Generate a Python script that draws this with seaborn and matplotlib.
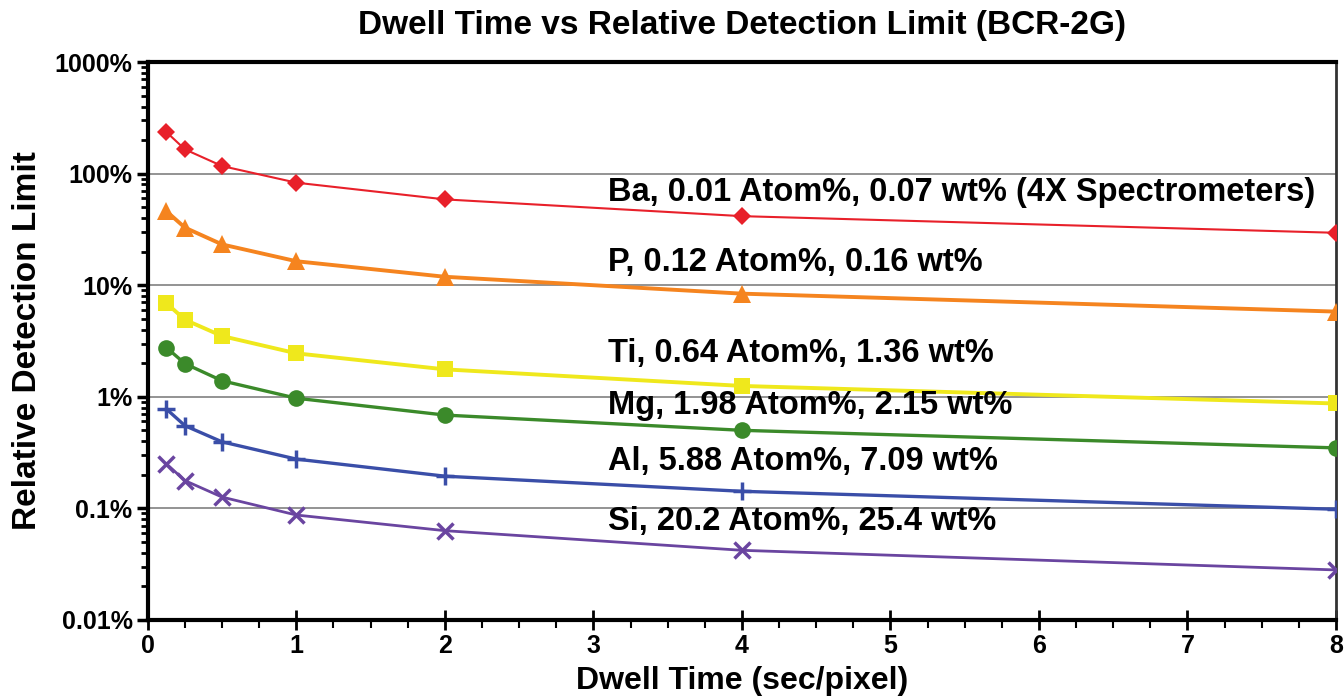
import numpy as np
import pandas as pd
import matplotlib
matplotlib.use("Agg")
import matplotlib.pyplot as plt
import seaborn as sns
from matplotlib.ticker import FixedLocator, FixedFormatter, LogLocator, NullFormatter, MultipleLocator

dwell = [0.125, 0.25, 0.5, 1, 2, 4, 8]
ba = [236, 165, 117, 83, 58.8, 41.6, 29.5]
p = [46, 32.8, 23.2, 16.4, 11.9, 8.4, 5.8]
ti = [6.9, 4.9, 3.5, 2.45, 1.76, 1.25, 0.87]
mg = [2.76, 1.98, 1.39, 0.97, 0.685, 0.50, 0.348]
al = [0.776, 0.55, 0.394, 0.276, 0.194, 0.142, 0.098]
si = [0.25, 0.177, 0.126, 0.087, 0.063, 0.042, 0.028]

labels = ["Ba, 0.01 Atom%, 0.07 wt% (4X Spectrometers)",
          "P, 0.12 Atom%, 0.16 wt%",
          "Ti, 0.64 Atom%, 1.36 wt%",
          "Mg, 1.98 Atom%, 2.15 wt%",
          "Al, 5.88 Atom%, 7.09 wt%",
          "Si, 20.2 Atom%, 25.4 wt%"]
label_y = [67.6, 16.0, 2.42, 0.84, 0.26, 0.076]
label_x = 3.1

ytick_vals = [0.01, 0.1, 1, 10, 100, 1000]
ytick_labels = ["0.01%", "0.1%", "1%", "10%", "100%", "1000%"]

series = [ba, p, ti, mg, al, si]
colors = ["#E8202A", "#F5841F", "#EFE81C", "#3B8A2A", "#3A4EA8", "#6A45A0"]
markers = ["D", "^", "s", "o", "P", "X"]
msizes = [9, 13, 12, 12, 13, 12]
lws = [1.5, 2.8, 2.8, 2.4, 2.4, 2.0]

sns.set_theme(style="white")
plt.rcParams['font.family'] = ['Liberation Sans', 'DejaVu Sans']
plt.rcParams['font.weight'] = 'bold'
plt.rcParams['text.color'] = 'black'
plt.rcParams['axes.labelcolor'] = 'black'
plt.rcParams['xtick.color'] = 'black'
plt.rcParams['ytick.color'] = 'black'

fig = plt.figure(figsize=(13.44, 6.98), dpi=100)
ax = fig.add_axes([0.110, 0.112, 0.884, 0.799])

for vals, c, m, ms, lw in zip(series, colors, markers, msizes, lws):
    df = pd.DataFrame({"x": dwell, "y": vals})
    if m in ("P", "X"):
        mk = "+" if m == "P" else "x"
        sns.lineplot(data=df, x="x", y="y", ax=ax, color=c, lw=lw, marker=mk,
                     markersize=ms, markeredgewidth=2.5, markeredgecolor=c, zorder=3)
    else:
        sns.lineplot(data=df, x="x", y="y", ax=ax, color=c, lw=lw, marker=m,
                     markersize=ms, markeredgewidth=0, markerfacecolor=c, zorder=3)

ax.set_yscale("log")
ax.set_xlim(0, 8)
ax.set_ylim(0.01, 1000)
ax.yaxis.set_major_locator(FixedLocator(ytick_vals))
ax.yaxis.set_major_formatter(FixedFormatter(ytick_labels))
ax.yaxis.set_minor_locator(LogLocator(base=10, subs=np.arange(2, 10)))
ax.yaxis.set_minor_formatter(NullFormatter())
ax.xaxis.set_major_locator(MultipleLocator(1))
ax.xaxis.set_minor_locator(MultipleLocator(0.25))

ax.grid(True, which="major", axis="y", color="#8a8a8a", lw=1.3, zorder=0)
ax.grid(False, axis="x")

for s in ["left", "bottom", "top"]:
    ax.spines[s].set_color("black")
    ax.spines[s].set_linewidth(3)
ax.spines["right"].set_color("#333333")
ax.spines["right"].set_linewidth(2)

ax.tick_params(axis="y", which="major", direction="out", length=8, width=2.5, labelsize=18, pad=3, left=True)
ax.tick_params(axis="y", which="minor", direction="out", length=5, width=2, left=True)
ax.tick_params(axis="x", which="major", direction="inout", length=14, width=2, labelsize=18, pad=3, bottom=True)
ax.tick_params(axis="x", which="minor", direction="out", length=6, width=1.5, bottom=True)
for t in ax.get_xticklabels() + ax.get_yticklabels():
    t.set_fontweight("bold")

for txt, yv in zip(labels, label_y):
    ax.text(label_x, yv, txt, fontsize=23.5, fontweight="bold", va="center", ha="left",
            color="black", zorder=4)

ax.set_xlabel("Dwell Time (sec/pixel)", fontsize=23, fontweight="bold", labelpad=6)
ax.set_ylabel("Relative Detection Limit", fontsize=24, fontweight="bold")
ax.yaxis.set_label_coords(-0.088, 0.5)
ax.set_title("Dwell Time vs Relative Detection Limit (BCR-2G)", fontsize=24, fontweight="bold", pad=20)

fig.savefig("out.png", dpi=100)
